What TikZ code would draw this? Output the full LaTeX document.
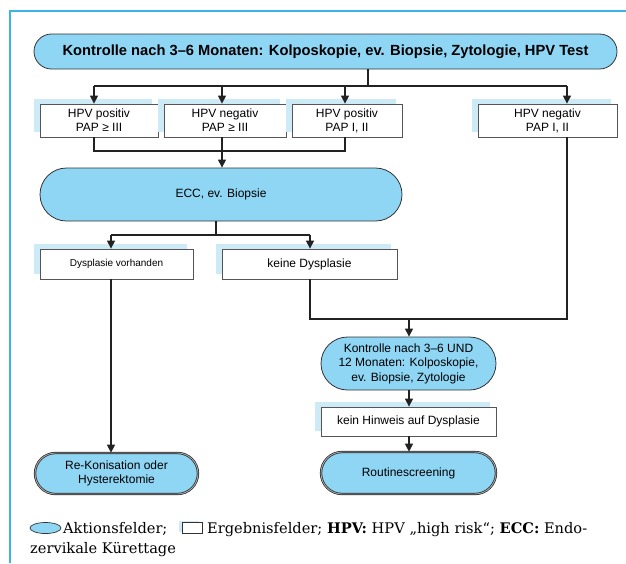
\documentclass[tikz,border=0pt]{standalone}
\usepackage{fontspec}
\setmainfont{DejaVu Serif}
\setsansfont{Liberation Sans}
\usetikzlibrary{arrows.meta,shapes.misc,shapes.geometric,shadows}

\definecolor{framec}{HTML}{3CB4E6}
\definecolor{pillblue}{HTML}{8FD6F4}
\definecolor{shadeblue}{HTML}{CDEAF7}
\definecolor{boxline}{HTML}{555555}
\definecolor{wire}{HTML}{222222}

\tikzset{
  pill/.style={rounded rectangle, draw=black!80, fill=pillblue, line width=0.8pt,
    align=center, inner sep=0pt, font=\sffamily\fontsize{12}{14.5}\selectfont},
  endpill/.style={pill, draw=black!85, double=black!35, double distance=0.9pt, line width=0.7pt},
  resbox/.style={rectangle, draw=boxline, fill=white, line width=0.8pt, align=center,
    inner sep=0pt, font=\sffamily\fontsize{12}{14}\selectfont,
    general shadow={fill=shadeblue, shadow xshift=-6pt, shadow yshift=5pt}},
  conn/.style={draw=wire, line width=1.1pt},
  arr/.style={conn, -{Triangle[width=8pt,length=8pt]}},
  legend/.style={inner sep=0pt, font=\fontsize{14.6}{20}\selectfont}
}

\begin{document}
\begin{tikzpicture}[x=1pt,y=-1pt]
\useasboundingbox (0,0) rectangle (626,563);

% outer frame
\draw[framec, line width=1.6pt] (10,563) -- (10,11) -- (626,11);

% top action field
\node[pill, minimum width=583pt, minimum height=35pt, font=\sffamily\bfseries\fontsize{14.7}{16}\selectfont]
  (top) at (325.5,51.5) {Kontrolle nach 3–6 Monaten: Kolposkopie, ev. Biopsie, Zytologie, HPV Test};

% first result row
\node[resbox, minimum width=118pt, minimum height=33pt] (b1) at (99,120.5) {HPV positiv\\PAP ≥ III};
\node[resbox, minimum width=122pt, minimum height=33pt] (b2) at (225,120.5) {HPV negativ\\PAP ≥ III};
\node[resbox, minimum width=110pt, minimum height=33pt] (b3) at (347,120.5) {HPV positiv\\PAP I, II};
\node[resbox, minimum width=139pt, minimum height=33pt] (b4) at (547.5,120.5) {HPV negativ\\PAP I, II};

% ECC
\node[pill, minimum width=362pt, minimum height=53pt] (ecc) at (221,194.5) {ECC, ev. Biopsie};

% second result row
\node[resbox, minimum width=153pt, minimum height=30pt, font=\sffamily\fontsize{10}{12}\selectfont]
  (dv) at (116.5,264) {Dysplasie vorhanden};
\node[resbox, minimum width=175pt, minimum height=30pt] (kd) at (309.5,264) {keine Dysplasie};

% follow-up branch
\node[pill, minimum width=175pt, minimum height=53pt] (k2) at (408.5,363.5)
  {Kontrolle nach 3–6 UND\\12 Monaten: Kolposkopie,\\ev. Biopsie, Zytologie};
\node[resbox, minimum width=175pt, minimum height=29pt] (kh) at (408.5,421.5) {kein Hinweis auf Dysplasie};
\node[endpill, minimum width=175pt, minimum height=42pt] (rs) at (408.5,473) {Routinescreening};

% therapy
\node[endpill, minimum width=163pt, minimum height=41pt, font=\sffamily\fontsize{12}{14}\selectfont]
  (rk) at (116.5,473.5) {Re-Konisation oder\\Hysterektomie};

% junction points
\coordinate (s1) at (368,86);
\coordinate (c1) at (94,86);
\coordinate (c2) at (222,86);
\coordinate (c3) at (345,86);
\coordinate (c4) at (567,86);
\coordinate (m1) at (94,151);
\coordinate (m2) at (222,151);
\coordinate (m3) at (345,151);
\coordinate (e0) at (216,235);
\coordinate (e1) at (111,235);
\coordinate (e2) at (310,235);
\coordinate (n1) at (310,319);
\coordinate (n2) at (409,319);
\coordinate (n3) at (567,319);

% connectors
\draw[conn] (top.south -| s1) -- (s1);
\draw[conn] (c1) -- (c4);
\draw[arr] (c1) -- (c1 |- b1.north);
\draw[arr] (c2) -- (c2 |- b2.north);
\draw[arr] (c3) -- (c3 |- b3.north);
\draw[arr] (c4) -- (c4 |- b4.north);

\draw[conn] (m1 |- b1.south) -- (m1) -- (m3) -- (m3 |- b3.south);
\draw[arr] (m2 |- b2.south) -- (m2 |- ecc.north);

\draw[conn] (ecc.south -| e0) -- (e0);
\draw[conn] (e1) -- (e2);
\draw[arr] (e1) -- (e1 |- dv.north);
\draw[arr] (e2) -- (e2 |- kd.north);

\draw[arr] (e1 |- dv.south) -- (e1 |- rk.north);

\draw[conn] (n1 |- kd.south) -- (n1) -- (n3) -- (n3 |- b4.south);
\draw[arr] (n2) -- (n2 |- k2.north);
\draw[arr] (k2.south -| n2) -- (kh.north -| n2);
\draw[arr] (kh.south -| n2) -- (rs.north -| n2);

% legend
\node[ellipse, draw=black!80, fill=pillblue, line width=0.7pt, inner sep=0pt,
  minimum width=31pt, minimum height=11pt] (lg1) at (45.5,528) {};
\node[legend, anchor=base west] (lt1) at (63,533) {Aktionsfelder;};
\node[rectangle, draw=black!80, fill=white, line width=0.7pt, inner sep=0pt,
  minimum width=20pt, minimum height=11pt,
  general shadow={fill=shadeblue, shadow xshift=-3pt, shadow yshift=2pt}] (lg2) at (192,528) {};
\node[legend, anchor=base west] (lt2) at (207,533)
  {\makebox[380pt][s]{Ergebnisfelder; \textbf{HPV:} HPV „high risk“; \textbf{ECC:} Endo-}};
\node[legend, anchor=base west] (lt3) at (30,553) {zervikale Kürettage};
\end{tikzpicture}
\end{document}
